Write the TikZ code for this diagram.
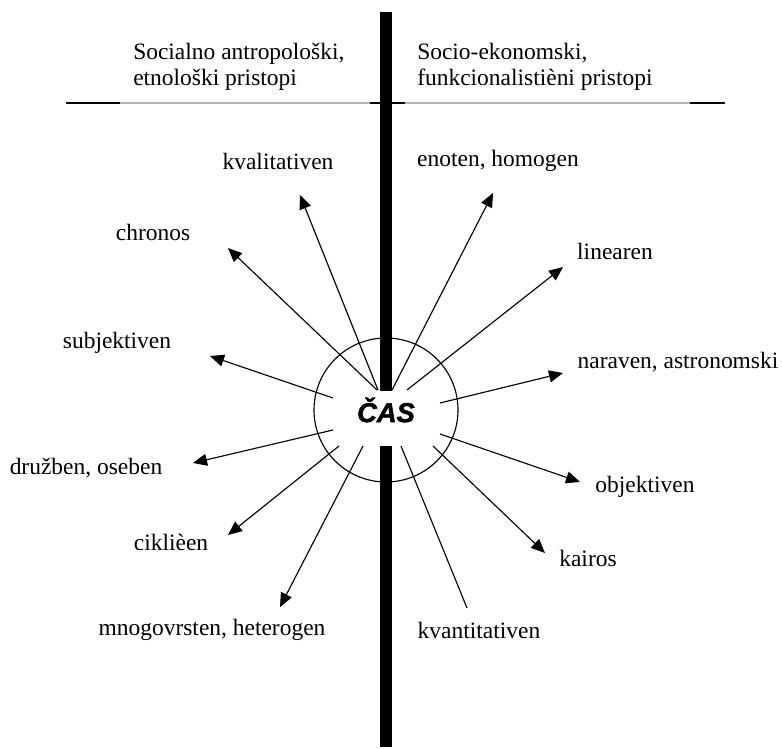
\documentclass[tikz,border=0pt]{standalone}
\usepackage{fontspec}
\setmainfont{Liberation Serif}
\newfontfamily\casfont[BoldItalicFeatures={FakeBold=1.6}]{Liberation Sans}
\usetikzlibrary{arrows.meta}

\tikzset{
  lbl/.style={font=\fontsize{17.6}{19.5}\selectfont, inner sep=0pt},
  arr/.style={line width=0.85pt, -{Triangle[length=10.5pt, width=9pt]}},
  ray/.style={line width=0.85pt},
}

\begin{document}
\begin{tikzpicture}[x=0.75pt, y=-0.75pt]
\useasboundingbox (0,0) rectangle (782,749);

\node[lbl, anchor=west, align=left] (hdrL) at (133,67) {Socialno antropološki,\\etnološki pristopi};
\node[lbl, anchor=west, align=left] (hdrR) at (417,67) {Socio-ekonomski,\\funkcionalistièni pristopi};

\draw[gray!60, line width=0.8pt] (66,103) -- (725,103);
\draw[line width=0.8pt] (66,103) -- (120,103);
\draw[line width=0.8pt] (370,103) -- (405,103);
\draw[line width=0.8pt] (690,103) -- (725,103);

\node[circle, draw, line width=0.85pt, minimum size=108pt, inner sep=0pt,
      font=\casfont\bfseries\itshape\fontsize{20.5}{24}\selectfont] (cas) at (386,410) {ČAS};

\node[lbl] (kval) at (278,161) {kvalitativen};
\node[lbl] (enot) at (498,161) {enoten, homogen};
\node[lbl] (chro) at (153,232) {chronos};
\node[lbl] (line) at (615,251) {linearen};
\node[lbl] (subj) at (117,343) {subjektiven};
\node[lbl] (nara) at (678,362) {naraven, astronomski};
\node[lbl] (druz) at (86,468) {družben, oseben};
\node[lbl] (obje) at (645,487) {objektiven};
\node[lbl] (cikl) at (171,542) {ciklièen};
\node[lbl] (kair) at (588,558) {kairos};
\node[lbl] (mnog) at (212,630) {mnogovrsten, heterogen};
\node[lbl] (kvan) at (479,630) {kvantitativen};

\coordinate (skval) at (378,390);  \coordinate (tkval) at (300,195);
\coordinate (schro) at (377,390);  \coordinate (tchro) at (228,248);
\coordinate (ssubj) at (333,398);  \coordinate (tsubj) at (210,356);
\coordinate (sdruz) at (333,430);  \coordinate (tdruz) at (193,463);
\coordinate (scikl) at (339,446);  \coordinate (tcikl) at (228,535);
\coordinate (smnog) at (363,446);  \coordinate (tmnog) at (280,607);
\coordinate (skair) at (433,446);  \coordinate (tkair) at (545,553);
\coordinate (sobje) at (440,434);  \coordinate (tobje) at (580,482);
\coordinate (snara) at (440,403);  \coordinate (tnara) at (563,373);
\coordinate (sline) at (407,390);  \coordinate (tline) at (563,267);
\coordinate (senot) at (392,390);  \coordinate (tenot) at (493,193);
\coordinate (skvan) at (401,446);  \coordinate (tkvan) at (467,608);

\foreach \n in {kval,chro,subj,druz,cikl,mnog,kair,obje,nara,line,enot}
	\draw[arr] (s\n) -- (t\n);
\draw[ray] (skvan) -- (tkvan);

\fill (380,12) rectangle (392,391);
\fill (380,446) rectangle (392,747);
\end{tikzpicture}
\end{document}
